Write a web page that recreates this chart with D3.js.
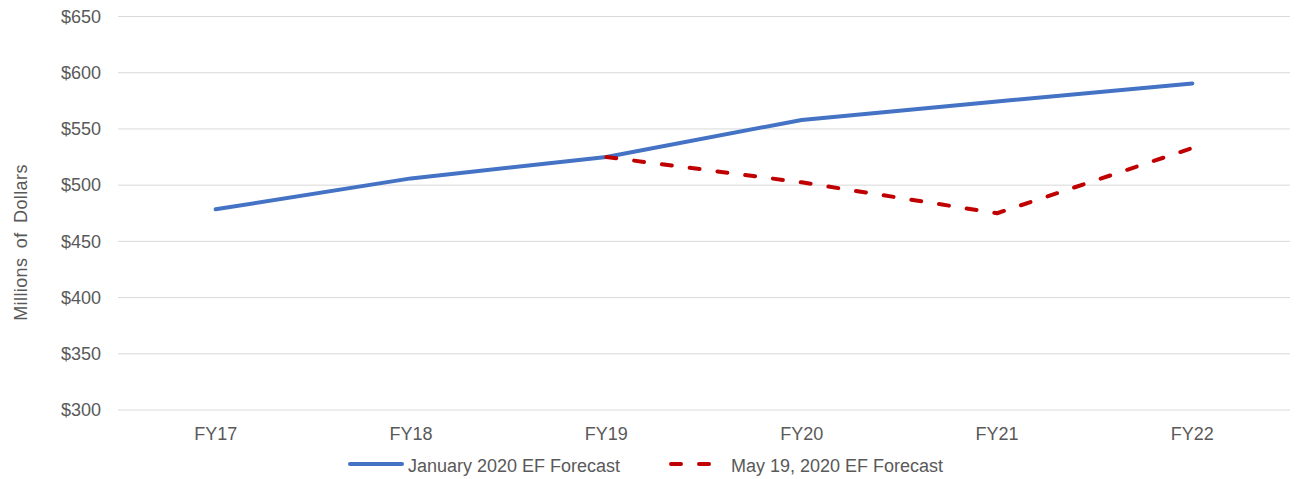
<!DOCTYPE html>
<html>
<head>
<meta charset="utf-8">
<script src="https://cdn.jsdelivr.net/npm/d3@7"></script>
<style>
  body { margin: 0; background: #fff; }
  text { font-family: "Liberation Sans", Arial, sans-serif; fill: #595959; }
</style>
</head>
<body>
<div id="main"></div>
<script>
// chart data
const years = ["FY17", "FY18", "FY19", "FY20", "FY21", "FY22"];
const janForecast = [478.5, 506, 525, 558, 574.5, 590.5];
const mayForecast = [null, null, 525, 502.5, 475, 533];
const yTicks = [300, 350, 400, 450, 500, 550, 600, 650];
const seriesNames = ["January 2020 EF Forecast", "May 19, 2020 EF Forecast"];

const width = 1297, height = 479;
const margin = {left: 118, right: 7, top: 16.5, bottom: 69};
const fontSize = '18px';

const svg = d3.select('#main').append('svg')
  .attr('width', width).attr('height', height);

// scales
const xScale = d3.scaleBand().domain(years).range([margin.left, width - margin.right]);
const yScale = d3.scaleLinear().domain([300, 650]).range([height - margin.bottom, margin.top]);

// gridlines
svg.append('g').selectAll('line').data(yTicks).enter().append('line')
  .attr('x1', margin.left).attr('x2', width - margin.right)
  .attr('y1', d => yScale(d)).attr('y2', d => yScale(d))
  .attr('stroke', '#d9d9d9').attr('stroke-width', 1);

// y axis
const yAxis = d3.axisLeft(yScale).tickValues(yTicks).tickSize(0).tickPadding(0)
  .tickFormat(d => "$" + d);
svg.append('g').attr('transform', 'translate(101,0)').call(yAxis)
  .call(g => g.select('.domain').remove())
  .selectAll('text').style('font-size', fontSize).attr('fill', '#595959');

// x axis
const xAxis = d3.axisBottom(xScale).tickSize(0).tickPadding(0);
svg.append('g').attr('transform', 'translate(0,' + (yScale(300) + 17) + ')').call(xAxis)
  .call(g => g.select('.domain').remove())
  .selectAll('text').style('font-size', fontSize).attr('fill', '#595959');

// y axis title
svg.append('text')
  .attr('transform', 'translate(27,' + 242.5 + ') rotate(-90)')
  .attr('text-anchor', 'middle')
  .style('font-size', fontSize)
  .style('letter-spacing', '0.4px')
  .style('word-spacing', '4px')
  .text("Millions of Dollars");

const xc = d => xScale(d) + xScale.bandwidth() / 2;

// lines
const janLine = d3.line()
  .x((d, i) => xc(years[i])).y(d => yScale(d));
svg.append('path').datum(janForecast)
  .attr('d', janLine)
  .attr('fill', 'none').attr('stroke', '#4472C4')
  .attr('stroke-width', 4).attr('stroke-linecap', 'round').attr('stroke-linejoin', 'round');

const mayLine = d3.line()
  .defined(d => d !== null)
  .x((d, i) => xc(years[i])).y(d => yScale(d));
svg.append('path').datum(mayForecast)
  .attr('d', mayLine)
  .attr('fill', 'none').attr('stroke', '#C00000')
  .attr('stroke-width', 4).attr('stroke-linecap', 'round').attr('stroke-linejoin', 'round')
  .attr('stroke-dasharray', '10,18');

// legend
const legend = svg.append('g').attr('transform', 'translate(0,464)');
legend.append('line').attr('x1', 350).attr('x2', 402).attr('y1', 0).attr('y2', 0)
  .attr('stroke', '#4472C4').attr('stroke-width', 4).attr('stroke-linecap', 'round');
legend.append('text').attr('x', 408).attr('y', 7.5).style('font-size', fontSize).text(seriesNames[0]);
legend.append('line').attr('x1', 671).attr('x2', 712).attr('y1', 0).attr('y2', 0)
  .attr('stroke', '#C00000').attr('stroke-width', 4).attr('stroke-linecap', 'round')
  .attr('stroke-dasharray', '10,18');
legend.append('text').attr('x', 731).attr('y', 7.5).style('font-size', fontSize).text(seriesNames[1]);
</script>
</body>
</html>
